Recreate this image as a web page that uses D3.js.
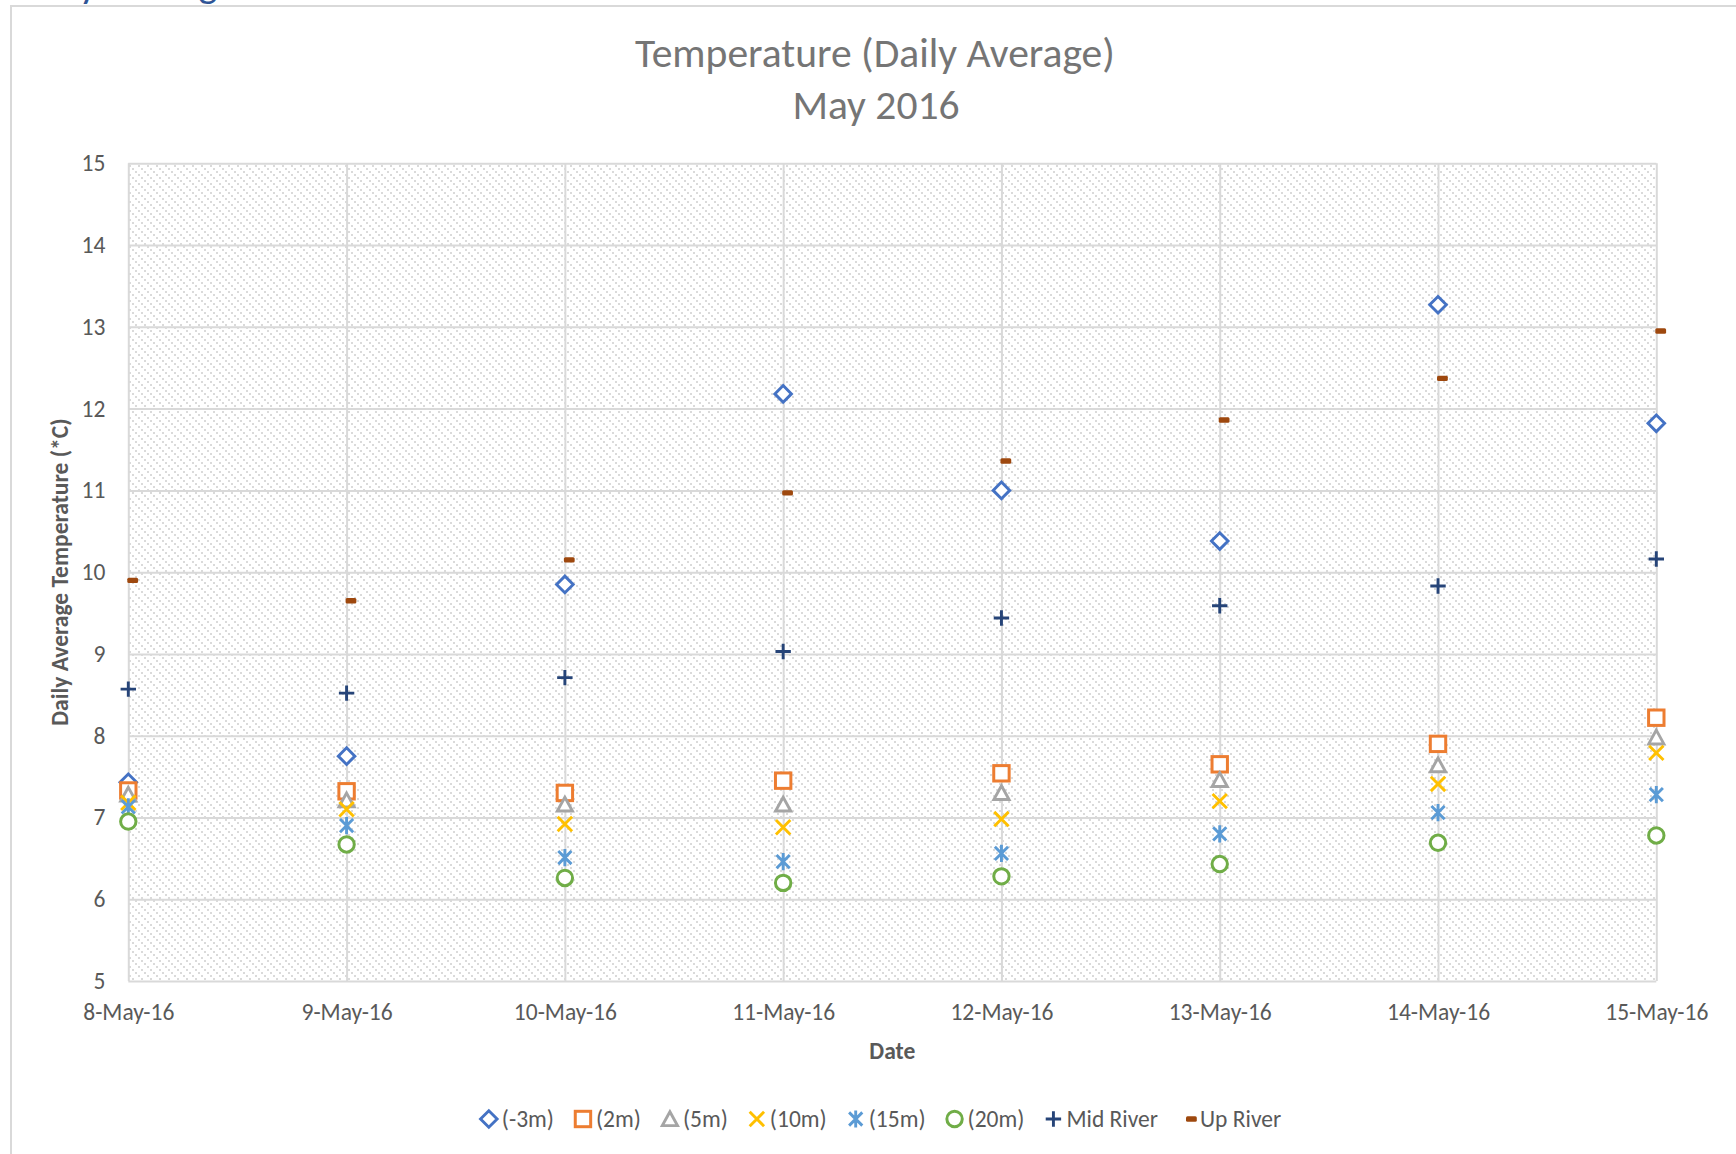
<!DOCTYPE html>
<html>
<head>
<meta charset="utf-8">
<script src="https://cdn.jsdelivr.net/npm/d3@7"></script>
<style>
body { margin: 0; background: #fff; }
text { font-family: Calibri, Carlito, Lato, sans-serif; }
</style>
</head>
<body>
<div id="chart"></div>
<script>
// values
const dates = ["8-May-16", "9-May-16", "10-May-16", "11-May-16", "12-May-16", "13-May-16", "14-May-16", "15-May-16"];
const yTicks = [5, 6, 7, 8, 9, 10, 11, 12, 13, 14, 15];

const depthM3 = [7.43, 7.75, 9.85, 12.18, 11.00, 10.38, 13.27, 11.82];
const depth2 = [7.33, 7.32, 7.30, 7.45, 7.54, 7.65, 7.90, 8.22];
const depth5 = [7.28, 7.21, 7.16, 7.16, 7.30, 7.46, 7.64, 7.98];
const depth10 = [7.18, 7.10, 6.92, 6.88, 6.98, 7.20, 7.41, 7.79];
const depth15 = [7.13, 6.90, 6.51, 6.46, 6.56, 6.80, 7.06, 7.28];
const depth20 = [6.95, 6.67, 6.26, 6.20, 6.28, 6.43, 6.69, 6.78];
const midRiver = [8.57, 8.52, 8.71, 9.03, 9.44, 9.59, 9.83, 10.16];
const upRiver = [9.90, 9.65, 10.15, 10.97, 11.36, 11.86, 12.37, 12.95];

const series = [
    { name: "(-3m)", values: depthM3, marker: "diamond", color: "#4472C4" },
    { name: "(2m)", values: depth2, marker: "square", color: "#ED7D31" },
    { name: "(5m)", values: depth5, marker: "triangle", color: "#A5A5A5" },
    { name: "(10m)", values: depth10, marker: "x", color: "#FFC000" },
    { name: "(15m)", values: depth15, marker: "star", color: "#5B9BD5" },
    { name: "(20m)", values: depth20, marker: "circle", color: "#70AD47" },
    { name: "Mid River", values: midRiver, marker: "plus", color: "#264478" },
    { name: "Up River", values: upRiver, marker: "dash", color: "#9E480E" }
];

let w = 1736;
let h = 1154;
const plot = { left: 128.3, right: 1656.3, top: 163.3, bottom: 981 };
const labelSize = "23.5px";

let svg = d3.select("#chart")
    .append("svg")
    .attr("width", w)
    .attr("height", h);

// hatched plot background
const defs = svg.append("defs");
const pat = defs.append("pattern")
    .attr("id", "hatch")
    .attr("patternUnits", "userSpaceOnUse")
    .attr("width", 9)
    .attr("height", 9);
[0, 3, 6].forEach(d => pat.append("rect")
    .attr("x", d).attr("y", d)
    .attr("width", 2).attr("height", 2)
    .attr("fill", "#dadada"));

// cut-off heading above the chart
svg.append("text")
    .attr("x", 17)
    .attr("y", -3)
    .attr("fill", "#2F5496")
    .style("font-size", "40px")
    .text("Daily Average");

// chart frame
svg.append("rect")
    .attr("x", 11).attr("y", 6)
    .attr("width", w).attr("height", h)
    .attr("fill", "#fff")
    .attr("stroke", "#d9d9d9")
    .attr("stroke-width", 2);

let x = d3.scalePoint()
    .domain(dates)
    .range([plot.left, plot.right]);

let y = d3.scaleLinear()
    .domain([5, 15])
    .range([plot.bottom, plot.top]);

svg.append("rect")
    .attr("x", plot.left).attr("y", plot.top)
    .attr("width", plot.right - plot.left)
    .attr("height", plot.bottom - plot.top)
    .attr("fill", "url(#hatch)");

// gridlines + tick labels
let yAxis = svg.append("g")
    .attr("transform", `translate(${plot.left},0)`)
    .call(d3.axisLeft(y)
        .tickValues(yTicks)
        .tickFormat(d3.format("d"))
        .tickSize(-(plot.right - plot.left))
        .tickPadding(23));

let xAxis = svg.append("g")
    .attr("transform", `translate(0,${plot.bottom})`)
    .call(d3.axisBottom(x)
        .tickSize(-(plot.bottom - plot.top))
        .tickPadding(22));

[xAxis, yAxis].forEach(a => {
    a.select(".domain").remove();
    a.selectAll("line").attr("stroke", "#d9d9d9").attr("stroke-width", 2);
    a.selectAll("text").attr("fill", "#595959").style("font-size", labelSize);
});

// markers
function drawMarker(g, type, color) {
    const sw = 2.9;
    if (type === "diamond") {
        g.append("path").attr("d", "M0,-8.3L8.3,0L0,8.3L-8.3,0Z")
            .attr("fill", "#fff").attr("stroke", color).attr("stroke-width", sw);
    } else if (type === "square") {
        g.append("rect").attr("x", -7.7).attr("y", -7.7).attr("width", 15.4).attr("height", 15.4)
            .attr("fill", "#fff").attr("stroke", color).attr("stroke-width", 3);
    } else if (type === "triangle") {
        g.append("path").attr("d", "M0,-7.2L7.6,6.6L-7.6,6.6Z")
            .attr("fill", "#fff").attr("stroke", color).attr("stroke-width", sw);
    } else if (type === "x") {
        g.append("path").attr("d", "M-7.2,-7.2L7.2,7.2M-7.2,7.2L7.2,-7.2")
            .attr("stroke", color).attr("stroke-width", sw);
    } else if (type === "star") {
        g.append("path").attr("d", "M-6.6,-6.6L6.6,6.6M-6.6,6.6L6.6,-6.6M0,-8.6L0,8.6")
            .attr("stroke", color).attr("stroke-width", sw);
    } else if (type === "circle") {
        g.append("circle").attr("r", 7.7)
            .attr("fill", "#fff").attr("stroke", color).attr("stroke-width", 3);
    } else if (type === "plus") {
        g.append("path").attr("d", "M-7.7,0H7.7M0,-7.7V7.7")
            .attr("stroke", color).attr("stroke-width", sw);
    } else if (type === "dash") {
        g.append("rect").attr("x", -1).attr("y", -2.7).attr("width", 10.8).attr("height", 5.4)
            .attr("rx", 1.5).attr("fill", color);
    }
}

series.forEach(s => {
    svg.append("g").selectAll("g")
        .data(s.values)
        .enter()
        .append("g")
        .attr("transform", (d, i) => `translate(${x(dates[i])},${y(d)})`)
        .each(function () { drawMarker(d3.select(this), s.marker, s.color); });
});

// titles
const title = svg.append("text")
    .attr("text-anchor", "middle")
    .attr("fill", "#757575");
title.append("tspan").attr("x", 875).attr("y", 67).text("Temperature (Daily Average)");
title.append("tspan").attr("x", 876).attr("y", 119).text("May 2016");
title.style("font-size", "35px");
// scale title so its first line has the reference width
const t1 = title.select("tspan").node().getComputedTextLength();
title.style("font-size", (35 * 480 / t1) + "px");

svg.append("text")
    .attr("x", (plot.left + plot.right) / 2)
    .attr("y", 1059)
    .attr("text-anchor", "middle")
    .attr("fill", "#595959")
    .style("font-size", labelSize)
    .style("font-weight", "bold")
    .text("Date");

svg.append("text")
    .attr("transform", `translate(68,${(plot.top + plot.bottom) / 2}) rotate(-90)`)
    .attr("text-anchor", "middle")
    .attr("fill", "#595959")
    .style("font-size", labelSize)
    .style("font-weight", "bold")
    .text("Daily Average Temperature (*C)");

// legend
const legend = svg.append("g");
let lx = 0;
series.forEach(s => {
    const item = legend.append("g").attr("transform", `translate(${lx},0)`);
    drawMarker(item.append("g"), s.marker, s.color);
    const t = item.append("text")
        .attr("x", 13)
        .attr("dy", "0.35em")
        .attr("fill", "#595959")
        .style("font-size", labelSize)
        .text(s.name);
    lx += 13 + t.node().getComputedTextLength() + 29;
});
const legendW = lx - 29;
legend.attr("transform", `translate(${878 - legendW / 2 + 7},1119)`);
</script>
</body>
</html>
